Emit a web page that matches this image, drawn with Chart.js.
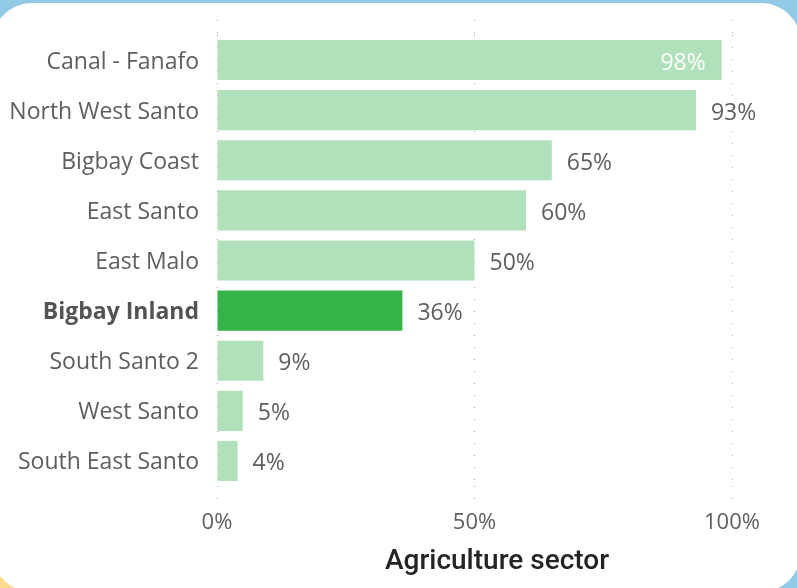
<!DOCTYPE html>
<html>
<head>
<meta charset="utf-8">
<script src="https://cdn.jsdelivr.net/npm/chart.js@4/dist/chart.umd.min.js"></script>
<style>
  html, body { margin: 0; padding: 0; width: 797px; height: 588px; overflow: hidden; background: #92C9E4; }
  #yellow { position: absolute; left: 0; bottom: 0; width: 50px; height: 50px; background: #FCDB8B; }
  #card { position: absolute; left: -8px; top: 3px; width: 809px; height: 589px; background: #fff; border-radius: 40px; }
  #wrap { position: absolute; left: 0; top: 0; width: 797px; height: 588px; }
</style>
</head>
<body>
<div id="yellow"></div>
<div id="card"></div>
<div id="wrap"><canvas id="c" width="797" height="588"></canvas></div>
<script>
const categories = ["Canal - Fanafo", "North West Santo", "Bigbay Coast", "East Santo", "East Malo", "Bigbay Inland", "South Santo 2", "West Santo", "South East Santo"];
const values = [98, 93, 65, 60, 50, 36, 9, 5, 4];
const highlighted = "Bigbay Inland";
const xTicks = [0, 50, 100];
const axisTitle = "Agriculture sector";

const LIGHT = "#B0E1BA";
const DARK = "#36B44A";
const TEXT = "#605E5C";
const GRID = "#A9A7A5";
const FONT = "'Open Sans', 'Noto Sans', sans-serif";

const valueLabels = {
  id: "valueLabels",
  afterDatasetsDraw(chart) {
    const ctx = chart.ctx;
    const meta = chart.getDatasetMeta(0);
    ctx.save();
    ctx.font = "23px " + FONT;
    ctx.textBaseline = "middle";
    meta.data.forEach((bar, i) => {
      const txt = values[i] + "%";
      if (values[i] > 95) {
        ctx.fillStyle = "#ffffff";
        ctx.textAlign = "right";
        ctx.fillText(txt, bar.x - 16, bar.y + 3);
      } else {
        ctx.fillStyle = TEXT;
        ctx.textAlign = "left";
        ctx.fillText(txt, bar.x + 15, bar.y + 3);
      }
    });
    ctx.restore();
  }
};

const titlePlugin = {
  id: "axisTitleCustom",
  afterDraw(chart) {
    const ctx = chart.ctx;
    ctx.save();
    ctx.font = "500 28px Roboto, sans-serif";
    ctx.fillStyle = "#252423";
    ctx.textAlign = "center";
    ctx.textBaseline = "alphabetic";
    ctx.fillText(axisTitle, 497, 569);
    ctx.restore();
  }
};

new Chart(document.getElementById("c"), {
  type: "bar",
  data: {
    labels: categories,
    datasets: [{
      data: values,
      backgroundColor: categories.map(c => c === highlighted ? DARK : LIGHT),
      borderWidth: 0,
      categoryPercentage: 0.8,
      barPercentage: 1.0
    }]
  },
  options: {
    indexAxis: "y",
    responsive: false,
    animation: false,
    layout: { padding: { top: 20, right: 65, bottom: 0, left: 0 } },
    plugins: { legend: { display: false }, tooltip: { enabled: false } },
    scales: {
      x: {
        position: "bottom",
        min: 0, max: 100,
        afterBuildTicks(scale) { scale.ticks = xTicks.map(v => ({ value: v })); },
        afterFit(scale) { scale.height = 102; },
        grid: { color: GRID, lineWidth: 1, drawTicks: true, tickLength: 14, tickColor: GRID, tickBorderDash: [1, 11] },
        border: { display: false, dash: [1, 11] },
        ticks: { padding: 10, color: TEXT, font: { family: FONT, size: 22 }, maxRotation: 0, callback: v => v + "%" }
      },
      x2: {
        position: "top",
        min: 0, max: 100,
        afterBuildTicks(scale) { scale.ticks = xTicks.map(v => ({ value: v })); },
        afterFit(scale) { scale.height = 15; },
        grid: { drawOnChartArea: false, drawTicks: true, tickLength: 15, tickColor: GRID, tickBorderDash: [1, 11] },
        border: { display: false },
        ticks: { display: false }
      },
      y: {
        type: "category",
        offset: true,
        afterFit(scale) { scale.width = 217; },
        grid: { display: false, drawTicks: false },
        border: { display: false },
        ticks: {
          padding: 18,
          labelOffset: 2,
          color: ctx => categories[ctx.index] === highlighted ? "#555351" : TEXT,
          font: ctx => ({ family: FONT, size: 23, weight: categories[ctx.index] === highlighted ? "bold" : "normal" })
        }
      }
    }
  },
  plugins: [valueLabels, titlePlugin]
});
</script>
</body>
</html>
